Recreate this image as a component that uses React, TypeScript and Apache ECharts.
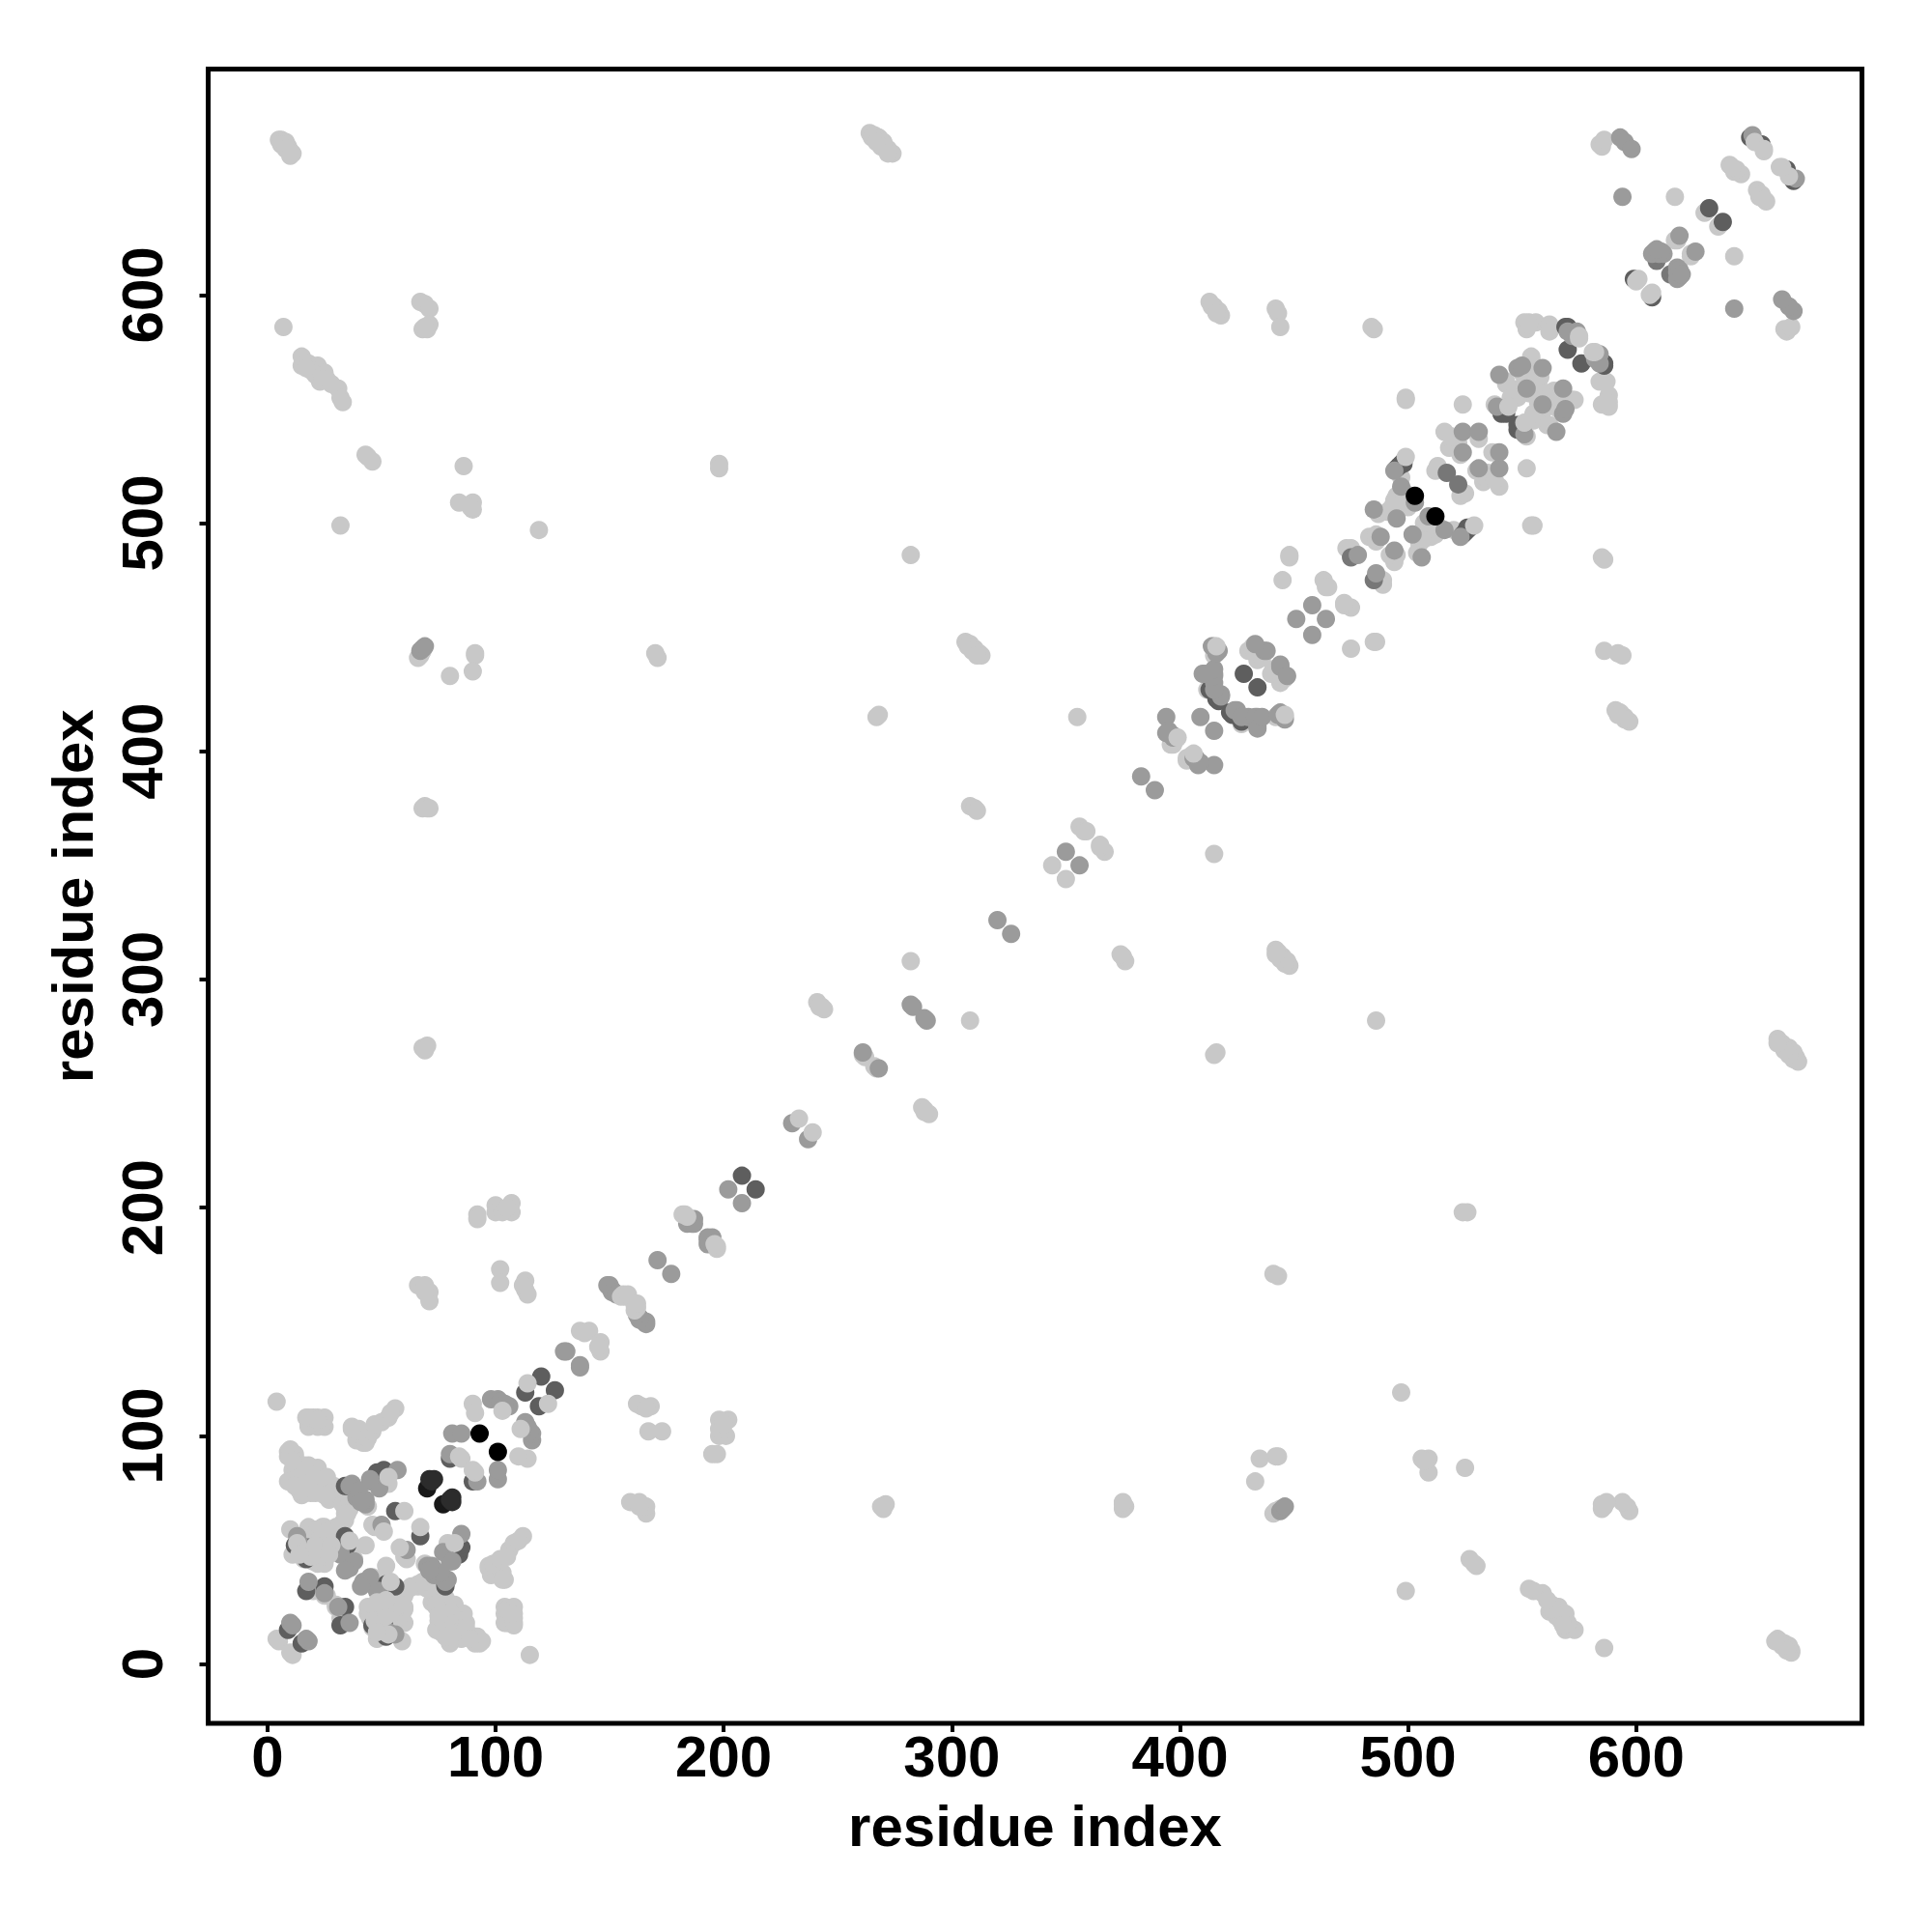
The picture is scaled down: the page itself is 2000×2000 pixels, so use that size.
import React, { useEffect, useRef } from "react";
import * as echarts from "echarts";

// Contacts between residues [i, j]; a contact map plots each at (i, j) and at (j, i).
const paleBack: number[][] = [
  [5,668],[6,668],[7,667],[8,667],[8,666],[9,665],[10,663],[11,662],[6,666],[8,664],[10,661],[7,586],
  [67,597],[69,596],[71,594],[68,585],[70,585],[71,587],[69,586],
  [15,573],[15,569],[18,570],[20,568],[22,569],[25,566],[23,562],[26,563],[31,559],[32,555],[33,553],[19,567],[21,565],[24,563],[17,568],[28,561],
  [43,530],[44,529],[46,527],[86,525],[84,509],[90,509],[90,506],[89,507],[32,499],[119,497],[198,526],[198,524],
  [66,441],[67,442],[68,444],[91,443],[91,442],[90,435],[80,433],[170,443],[171,441],
  [68,375],[69,376],[70,375],[71,375],[68,270],[70,271],[69,269],
  [92,197],[92,195],[100,201],[100,198],[107,202],[107,198],[103,198],[105,200],
  [102,173],[102,167],[113,168],[113,164],[114,162],[112,166],
  [66,166],[69,166],[71,163],[71,159],[69,163],[4,115],
  [17,108],[18,104],[20,108],[22,108],[24,106],[25,104],[22,104],
  [18,105],[18,108],[24,105],[25,108],[22,107],
  [37,104],[40,103],[42,97],[39,98],[43,97],[44,99],[37,103],[46,102],
  [50,106],[47,105],[53,108],[56,112],[54,110],
  [137,146],[141,146],[139,145],[90,114],[91,110],
  [9,93],[12,91],[9,80],[18,87],[22,86],[26,82],[15,76],[19,80],[24,77],[29,78],[13,88],[11,85],[12,80],[16,84],[20,82],[23,80],[25,74],[28,75],[31,73],[27,72],[19,75],
  [34,66],[33,70],[36,71],[34,63],[36,68],[46,61],[47,60],[53,79],[44,69],[35,66],[32,60],[26,74],[15,74],[10,80],[12,92],[9,91],[19,85],[19,77],[10,94],[14,76],[15,83],[18,80],[14,84],[16,87],[12,78],[21,75],[11,89],
  [22,44],[22,48],[11,48],[18,58],[10,59],[24,60],[26,50],[19,55],[36,52],[38,46],[20,45],[25,44],[18,60],[22,59],[25,60],[33,62],[37,49],[17,55],[20,50],[22,54],[28,57],[25,47],[28,50],[14,50],[16,46],[30,60],[26,58],[43,52],[33,49],
  [4,11],[5,10],[20,32],[26,30],[25,30],
  [397,403],[396,403],[398,405],[412,427],[415,446],[415,442],[432,446],[430,444],[434,440],[436,441],[432,445],
  [445,475],[448,485],[448,486],[463,475],[464,472],[465,472],[473,489],[475,489],[483,494],[486,492],[486,495],
  [282,308],[282,486],[267,415],[268,416],[355,415],[306,448],[308,447],[310,445],[312,443],[313,442],[307,446],[309,444],[311,442],
  [264,671],[266,670],[268,669],[270,667],[272,664],[274,662],[265,669],[267,667],[269,665],[272,662],[241,290],[243,288],[244,287],[242,288],[308,376],[310,375],[311,374],
  [356,367],[358,365],[359,365],[344,350],[261,267],[262,266],
  [413,597],[415,595],[417,593],[418,591],[414,595],[416,592],[442,594],[443,592],[444,586],[485,585],[484,586],[499,555],[499,554],
  [487,504],[491,505],[493,507],[495,512],[497,520],[500,512],[494,510],[496,508],[498,514],[493,506],[500,507],
  [516,540],[518,533],[512,523],[523,530],[522,535],[531,537],[524,552],[520,534],[519,538],[513,525],[538,552],
  [553,588],[551,588],[556,588],[562,587],[562,584],[554,572],[543,561],[550,566],[554,563],[554,573],[549,559],[553,557],[543,562],[552,585],[553,587],[558,564],[557,561],[545,555],[548,555],[555,561],[551,561],[555,566],
  [584,666],[585,665],[586,668],[617,643],[617,624],[618,624],[630,636],[631,637],
  [641,657],[643,654],[646,653],[644,655],[642,656],[656,663],
];
const slate: number[][] = [
  [475,485],[609,615],[517,522],
];
const dark: number[][] = [
  [9,15],[25,34],[17,32],[34,56],[17,46],[18,51],[12,52],[15,48],[35,52],[35,78],[48,84],[51,85],[48,80],[56,67],[52,84],[34,78],
  [120,126],[113,119],[80,90],[208,214],[413,427],[416,423],[417,422],[428,434],
  [497,526],[495,524],[498,526],[496,525],[498,527],[570,576],[569,586],[570,586],[541,548],[543,548],[632,638],[599,607],[650,669],[655,666],
];
const darkest: number[][] = [[70,77]];
const charcoal: number[][] = [[71,81],[73,81],[72,80]];
const mid: number[][] = [
  [10,18],[11,17],[18,36],[25,31],[36,42],[32,49],[13,56],[32,48],[38,45],[34,41],[14,53],
  [37,79],[41,71],[43,70],[45,80],[57,85],[50,61],[49,77],[45,81],[43,72],[36,78],[39,73],[40,76],[41,71],
  [67,444],[68,445],[69,446],
  [149,166],[150,165],[152,163],[151,164],[150,166],[151,163],[153,162],[184,195],[186,193],[187,195],[184,193],[185,194],[187,193],[171,177],[130,137],[131,137],
  [98,116],[101,116],[106,113],[102,115],[104,114],[81,101],[85,101],[80,92],
  [202,208],[230,237],[261,268],[282,289],[283,288],[320,326],[350,356],[383,389],
  [394,415],[395,409],[397,406],[397,407],[394,408],[409,415],[414,446],[417,444],[411,434],[415,434],[415,430],[418,425],[418,424],[415,427],[415,433],[410,434],[415,436],[416,444],[437,444],[438,444],[433,447],[416,443],
  [458,464],[451,458],[478,486],[488,494],[485,506],[495,502],[497,516],[503,509],[494,523],
  [524,540],[531,540],[524,531],
  [559,568],[548,568],[540,565],[552,559],[550,569],[539,551],[574,584],[573,583],[572,582],[570,584],
  [593,669],[595,667],[598,664],[594,643],[619,626],[608,619],[612,618],[607,618],[610,618],[611,619],[609,620],[651,670],
];
const black: number[][] = [[93,101],[503,512]];
const paleFront: number[][] = [
  [156,162],[157,161],[155,161],[158,162],[182,197],[183,197],[184,196],[233,239],[114,123],[103,111],[84,91],[85,90],
  [60,67],[51,58],[53,82],[13,53],[16,49],[36,54],[19,47],[21,52],[14,48],[28,52],[27,48],
  [399,406],[416,446],[499,529],[575,582],[575,581],[544,551],[601,607],[600,606],[652,667],[656,664],
];

const tickValues = [0, 100, 200, 300, 400, 500, 600];
const axisTitle = "residue index";

const FONT = "'Liberation Sans', Arial, Helvetica, sans-serif";

const contactSeries = (contacts: number[][], color: string) => ({
  type: "scatter",
  symbol: "circle",
  symbolSize: 19,
  itemStyle: { color, opacity: 1 },
  data: contacts.flatMap(([i, j]) => [[i, j], [j, i]]),
});

const axis = (extra: object) => ({
  type: "value",
  min: -26,
  max: 699,
  name: axisTitle,
  nameLocation: "middle",
  nameTextStyle: { fontFamily: FONT, fontWeight: "bold", fontSize: 60, color: "#000" },
  axisLine: { show: false, onZero: false },
  splitLine: { show: false },
  axisTick: { show: true, length: 9, lineStyle: { color: "#000", width: 4 }, customValues: tickValues },
  ...extra,
});

export default function App() {
  const ref = useRef<HTMLDivElement>(null);
  useEffect(() => {
    const chart = echarts.init(ref.current!, null, { renderer: "svg" });
    const labelStyle = { fontFamily: FONT, fontWeight: "bold", fontSize: 60, color: "#000", customValues: tickValues };
    chart.setOption({
      animation: false,
      backgroundColor: "#fff",
      grid: {
        show: true,
        left: 215.5,
        top: 71.5,
        width: 1712,
        height: 1712.5,
        borderWidth: 5,
        borderColor: "#000",
        backgroundColor: "transparent",
      },
      xAxis: axis({ nameGap: 76, axisLabel: { ...labelStyle, margin: 4 } }),
      yAxis: axis({ nameGap: 110, nameRotate: 90, axisLabel: { ...labelStyle, rotate: 90, margin: 38 } }),
      series: [
        contactSeries(paleBack, "#c8c8c8"),
        contactSeries(slate, "#777777"),
        contactSeries(dark, "#5e5e5e"),
        contactSeries(darkest, "#181818"),
        contactSeries(charcoal, "#2c2c2c"),
        contactSeries(mid, "#9b9b9b"),
        contactSeries(black, "#000000"),
        contactSeries(paleFront, "#c8c8c8"),
      ],
    });
    return () => chart.dispose();
  }, []);
  return <div ref={ref} style={{ position: "absolute", left: 0, top: 0, width: 2000, height: 2000 }} />;
}
